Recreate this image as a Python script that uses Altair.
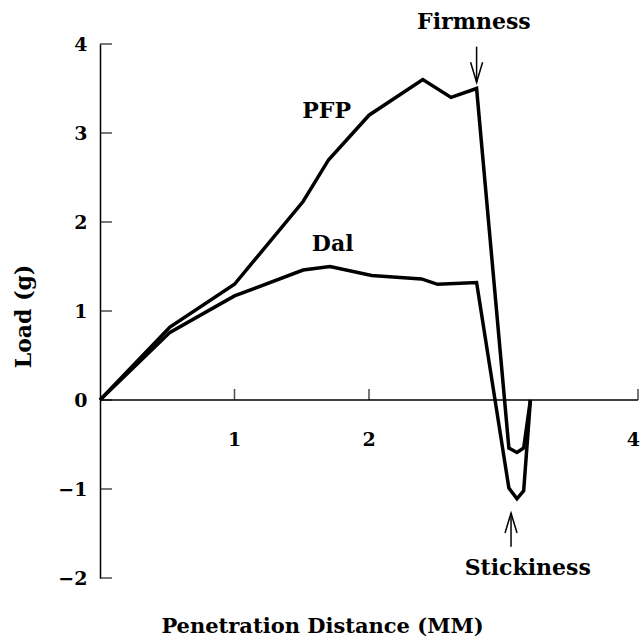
import altair as alt
import pandas as pd

# Curves
pfp_x = [0, 0.52, 1.00, 1.51, 1.70, 2.00, 2.40, 2.61, 2.80, 3.04, 3.10, 3.15, 3.20]
pfp_y = [0, 0.82, 1.30, 2.23, 2.70, 3.20, 3.60, 3.40, 3.50, -0.54, -0.59, -0.54, 0]
dal_x = [0, 0.52, 1.00, 1.51, 1.71, 2.02, 2.39, 2.51, 2.80, 3.04, 3.10, 3.15, 3.20]
dal_y = [0, 0.76, 1.17, 1.46, 1.50, 1.40, 1.36, 1.30, 1.32, -0.99, -1.11, -1.02, 0]

# Axis ticks
x_ticks = [1, 2, 4]
y_ticks = [-2, -1, 0, 1, 2, 3, 4]

# Annotations
label_text = ["PFP", "Dal", "Firmness", "Stickiness"]
label_x = [1.685, 1.73, 2.78, 3.18]
label_y = [3.25, 1.75, 4.25, -1.89]

arrow_x = [2.80, 3.056]
arrow_from = [3.97, -1.65]
arrow_to = [3.57, -1.27]
arrow_dir = ["down", "up"]

FONT = "DejaVu Serif"

curves = pd.DataFrame(
    [{"series": "PFP", "x": x, "y": y, "i": i} for i, (x, y) in enumerate(zip(pfp_x, pfp_y))]
    + [{"series": "Dal", "x": x, "y": y, "i": i} for i, (x, y) in enumerate(zip(dal_x, dal_y))]
)
xt = pd.DataFrame({"x": x_ticks, "label": [str(v) for v in x_ticks], "y": [0] * len(x_ticks)})
yt = pd.DataFrame({"y": y_ticks, "x": [0] * len(y_ticks)})
labels = pd.DataFrame({"text": label_text, "x": label_x, "y": label_y})
arrows = pd.DataFrame({"x": arrow_x, "y1": arrow_from, "y2": arrow_to, "dir": arrow_dir})

xs = alt.Scale(domain=[0, 4], nice=False, zero=False)
ys = alt.Scale(domain=[-2, 4], nice=False, zero=False)

base_x_axis = alt.Axis(
    domain=False, ticks=False, labels=False, grid=False,
    title="Penetration Distance (MM)", titleFont=FONT, titleFontWeight="bold",
    titleFontSize=21, titleColor="black", titleX=222, titleY=48,
    titleBaseline="middle", titleAlign="center",
)
y_axis = alt.Axis(
    values=y_ticks, format="d", grid=False, ticks=False, domain=True, domainColor="black",
    domainWidth=1.5, labelFont=FONT, labelFontWeight="bold", labelFontSize=19,
    labelColor="black", labelPadding=13, labelBaseline="middle",
    title="Load (g)", titleFont=FONT, titleFontWeight="bold", titleFontSize=22,
    titleColor="black", titleAngle=270, titleX=-77, titleY=272,
    titleBaseline="middle", titleAlign="center",
)

lines = alt.Chart(curves).mark_line(color="black", strokeWidth=3.5, strokeJoin="miter").encode(
    x=alt.X("x:Q", scale=xs, axis=base_x_axis),
    y=alt.Y("y:Q", scale=ys, axis=y_axis),
    detail="series:N",
    order="i:Q",
)

xaxis_line = alt.Chart(pd.DataFrame({"a": [0], "b": [4], "y": [0]})).mark_rule(
    color="black", strokeWidth=1.5
).encode(x=alt.X("a:Q", scale=xs), x2="b:Q", y=alt.Y("y:Q", scale=ys))

xtick_marks = alt.Chart(xt).mark_tick(
    color="black", orient="vertical", size=11, thickness=1.5, yOffset=-5.5
).encode(x=alt.X("x:Q", scale=xs), y=alt.Y("y:Q", scale=ys))

xtick_labels = alt.Chart(xt).transform_filter("datum.x < 4").mark_text(
    font=FONT, fontWeight="bold", fontSize=19, color="black", dy=40, baseline="middle"
).encode(x=alt.X("x:Q", scale=xs), y=alt.Y("y:Q", scale=ys), text="label:N")

xtick_last = alt.Chart(xt).transform_filter("datum.x == 4").mark_text(
    font=FONT, fontWeight="bold", fontSize=19, color="black", dy=40, dx=2,
    baseline="middle", align="right"
).encode(x=alt.X("x:Q", scale=xs), y=alt.Y("y:Q", scale=ys), text="label:N")

ytick_marks = alt.Chart(yt).mark_tick(
    color="black", orient="horizontal", size=12, thickness=1.5, xOffset=6
).encode(x=alt.X("x:Q", scale=xs), y=alt.Y("y:Q", scale=ys))

text = alt.Chart(labels).mark_text(
    font=FONT, fontWeight="bold", fontSize=22, color="black", baseline="middle"
).encode(x=alt.X("x:Q", scale=xs), y=alt.Y("y:Q", scale=ys), text="text:N")

shafts = alt.Chart(arrows).mark_rule(color="black", strokeWidth=1.5).encode(
    x=alt.X("x:Q", scale=xs), y=alt.Y("y1:Q", scale=ys), y2="y2:Q"
)
head_down = alt.Chart(arrows).transform_filter("datum.dir == 'down'").mark_point(
    shape="M-0.3,-1L0,0L0.3,-1", size=1600, filled=False, color="black", strokeWidth=1.5, opacity=1
).encode(x=alt.X("x:Q", scale=xs), y=alt.Y("y2:Q", scale=ys))
head_up = alt.Chart(arrows).transform_filter("datum.dir == 'up'").mark_point(
    shape="M-0.3,1L0,0L0.3,1", size=1600, filled=False, color="black", strokeWidth=1.5, opacity=1
).encode(x=alt.X("x:Q", scale=xs), y=alt.Y("y2:Q", scale=ys))

chart = alt.layer(
    lines, xaxis_line, xtick_marks, xtick_labels, xtick_last, ytick_marks, text,
    shafts, head_down, head_up
).properties(
    width=538, height=534,
    autosize="none",
    padding={"left": 100, "top": 44, "right": 3, "bottom": 63},
    background="white",
).configure_view(stroke=None)

chart.save("out.html", embed_options={"renderer": "svg", "actions": False})
